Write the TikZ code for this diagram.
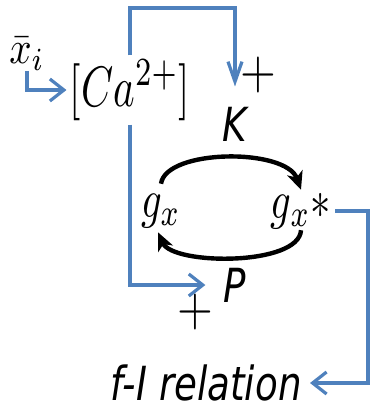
\documentclass[tikz,border=0pt]{standalone}
\usepackage{graphicx}
\usepackage{fontspec}
\setsansfont{DejaVu Sans}
\usetikzlibrary{arrows.meta}
\definecolor{fblue}{RGB}{79,129,189}
\newcommand{\sqz}[3]{\scalebox{#1}[#2]{#3}}
\begin{document}
\begin{tikzpicture}[x=0.5pt,y=-0.5pt,
  txt/.style={inner sep=0pt, font=\fontsize{10}{12}\selectfont},
  lbl/.style={inner sep=0pt, font=\fontsize{10}{12}\selectfont\sffamily\itshape},
  bl/.style={draw=fblue, line width=1.6pt},
  hh/.style={-{Straight Barb[length=7pt,width=11pt]}},
  vh/.style={-{Straight Barb[length=10pt,width=7pt]}},
  bk/.style={draw=black, line width=2.2pt, -{Stealth[length=9pt,width=8pt,inset=2.5pt]}}]
\useasboundingbox (0,0) rectangle (372,409);
% nodes
\node[txt] (xi) at (27,54) {\sqz{1.96}{2.3}{$\bar{x}_i$}};
\node[txt] (ca) at (130,90) {\sqz{2.05}{2.85}{$[Ca^{2+}]$}};
\node[txt] (plusK) at (258,75) {\sqz{2.3}{2.7}{$+$}};
\node[lbl] (K) at (235,124) {\sqz{1.86}{2.35}{K}};
\node[txt] (gx) at (161,211) {\sqz{2.03}{2.7}{$g_x$}};
\node[txt] (gxs) at (301,211) {\sqz{2.03}{2.7}{$g_x{*}$}};
\node[lbl] (P) at (235,285) {\sqz{1.86}{2.35}{P}};
\node[txt] (plusP) at (195,312) {\sqz{2.3}{2.7}{$+$}};
\node[lbl] (fI) at (206,383) {\sqz{1.86}{2.35}{f-I relation}};
\coordinate (c1) at (235,8);
\coordinate (c2) at (368,210);
% blue connectors
\draw[bl,hh,shorten >=1.5pt] (xi.south) |- (ca.west);
\draw[bl,vh,shorten <=2pt,shorten >=10pt] (ca.north) |- (c1) -- (K.north);
\draw[bl,hh,shorten <=2pt,shorten >=9pt] (ca.south) |- (P.west);
\draw[bl,hh,shorten <=2pt,shorten >=4pt] (gxs.east) -- (gxs.east -| c2) |- (fI.east);
% black cycle
\draw[bk] ([yshift=5pt]gx.north) .. controls +(5,-35) and +(-15,-42) .. ([yshift=1.5pt]gxs.north);
\draw[bk] ([yshift=-0.5pt]gxs.south) .. controls +(-2,36) and +(15,33) .. ([xshift=-1.5pt,yshift=-2pt]gx.south);
\end{tikzpicture}
\end{document}
